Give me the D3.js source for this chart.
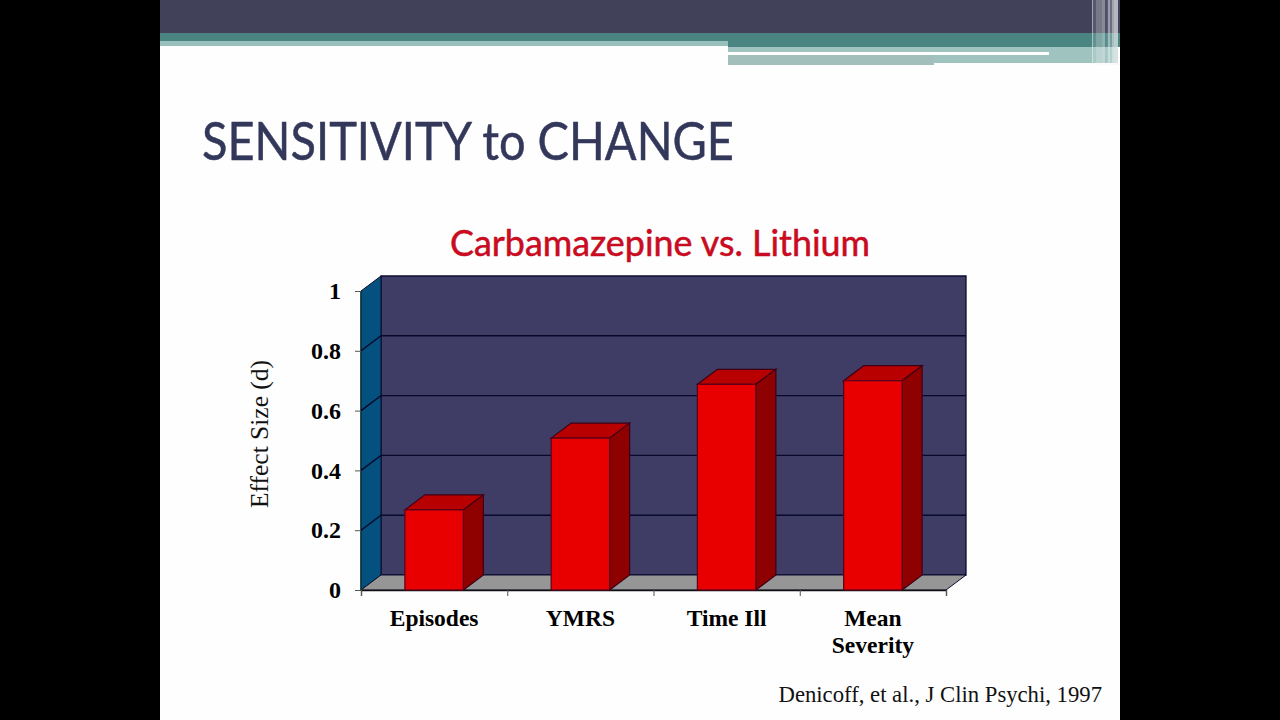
<!DOCTYPE html>
<html>
<head>
<meta charset="utf-8">
<script src="https://cdn.jsdelivr.net/npm/d3@7"></script>
<style>
html,body{margin:0;padding:0;background:#000;overflow:hidden}
svg{display:block}
</style>
</head>
<body>
<svg id="slide" width="1280" height="720"></svg>
<script>
const categories = [["Episodes"], ["YMRS"], ["Time Ill"], ["Mean", "Severity"]];
const effectSizes = [0.268, 0.508, 0.688, 0.70];
const yTicks = [0, 0.2, 0.4, 0.6, 0.8, 1];
const slideTitle = "SENSITIVITY to CHANGE";
const chartTitle = "Carbamazepine vs. Lithium";
const yAxisTitle = "Effect Size (d)";
const citation = "Denicoff, et al., J Clin Psychi, 1997";

const svg = d3.select("#slide");
const serif = "'Liberation Serif','Times New Roman',serif";
const sans = "Lato,'Open Sans',sans-serif";

// Slide background and banner
svg.append("rect").attr("x",160).attr("y",0).attr("width",960).attr("height",720).attr("fill","#fefefe");
const banner = svg.append("g");
const bannerBands = [
  [160,0,960,33,"#41425a"],
  [160,33,960,8,"#4b8582"],
  [160,41,568,5,"#98c1bd"],
  [728,41,392,6,"#4b8582"],
  [728,47,390,16,"#9fc4c0"],
  [728,52,321,3,"#ffffff"],
  [728,55,206,10,"#a3bfbc"],
];
bannerBands.forEach(b => banner.append("rect").attr("x",b[0]).attr("y",b[1]).attr("width",b[2]).attr("height",b[3]).attr("fill",b[4]));
// Pale vertical pinstripes at the banner's right end
[[1092,1,0.55],[1093,3,0.12],[1096,6,0.3],[1102,3,0.4],[1105,2,0.08],[1107,1,0.15],[1108,2,0.5],[1110,2,0.25],[1112,2,0.55],[1114,4,0.65]]
  .forEach(s => banner.append("rect").attr("x",s[0]).attr("y",0).attr("width",s[1]).attr("height",65).attr("fill","#f4f4f6").attr("opacity",s[2]));

// Titles
svg.append("text").attr("x",202).attr("y",160).attr("font-family",sans).attr("font-size",52).attr("fill","#33385a")
  .attr("stroke","#33385a").attr("stroke-width",0.5)
  .attr("textLength",532).attr("lengthAdjust","spacingAndGlyphs").text(slideTitle);
svg.append("text").attr("x",450).attr("y",256).attr("font-family",sans).attr("font-size",37).attr("fill","#cf0a20")
  .attr("stroke","#b80a20").attr("stroke-width",0.5)
  .attr("textLength",420).attr("lengthAdjust","spacingAndGlyphs").text(chartTitle);

// Plot scales: front plane of the 3D box
const depth = {x:20, y:-15};
const x = d3.scaleBand().domain(d3.range(categories.length)).range([361,946]);
const y = d3.scaleLinear().domain([0,1]).range([590,291]);
const barWidth = x.bandwidth()*0.4;
const ink = "#0c0c30";
const poly = pts => pts.map(p => p.join(",")).join(" ");

const plot = svg.append("g");
const [x0,x1] = x.range();
const [y0,y1] = y.range();

// Back wall, left wall, floor
plot.append("polygon").attr("points",poly([[x0+depth.x,y1+depth.y],[x1+depth.x,y1+depth.y],[x1+depth.x,y0+depth.y],[x0+depth.x,y0+depth.y]]))
  .attr("fill","#3f3c66").attr("stroke",ink).attr("stroke-width",1.3);
plot.append("polygon").attr("points",poly([[x0,y1],[x0+depth.x,y1+depth.y],[x0+depth.x,y0+depth.y],[x0,y0]]))
  .attr("fill","#04517f").attr("stroke",ink).attr("stroke-width",1);
plot.append("polygon").attr("points",poly([[x0,y0],[x0+depth.x,y0+depth.y],[x1+depth.x,y0+depth.y],[x1,y0]]))
  .attr("fill","#969696").attr("stroke",ink).attr("stroke-width",1);
plot.append("line").attr("x1",x0).attr("x2",x0).attr("y1",y1).attr("y2",y0).attr("stroke","#0c3a3c").attr("stroke-width",1.5);

// Gridlines wrap from the left wall onto the back wall
yTicks.slice(1,-1).forEach(t => {
  plot.append("polyline").attr("fill","none").attr("stroke","#08082a").attr("stroke-width",1.4)
    .attr("points",poly([[x0,y(t)],[x0+depth.x,y(t)+depth.y],[x1+depth.x,y(t)+depth.y]]));
});

// Axes
const yAxis = d3.axisLeft(y).tickValues(yTicks).tickSize(6).tickPadding(14).tickFormat(d3.format("~g"));
const yG = plot.append("g").attr("transform",`translate(${x0},0)`).call(yAxis);
yG.select(".domain").remove();
yG.selectAll("line").attr("stroke","#555").attr("stroke-width",1);
yG.selectAll("text").attr("font-family",serif).attr("font-weight","bold").attr("font-size",24).attr("fill","#000");

const xAxis = d3.axisBottom(d3.scaleLinear().domain([0,categories.length]).range([x0,x1]))
  .ticks(categories.length).tickSize(6).tickFormat("");
const xG = plot.append("g").attr("transform",`translate(0,${y0})`).call(xAxis);
xG.select(".domain").attr("stroke","#111").attr("stroke-width",1.3);
xG.selectAll("line").attr("stroke","#555").attr("stroke-width",1);

// Bars
const bars = plot.selectAll("g.bar").data(effectSizes).join("g").attr("class","bar");
bars.each(function(v,i){
  const g = d3.select(this);
  const l = x(i)+(x.bandwidth()-barWidth)/2, r = l+barWidth, t = y(v);
  g.append("polygon").attr("points",poly([[l,t],[l+depth.x,t+depth.y],[r+depth.x,t+depth.y],[r,t]]))
    .attr("fill","#b90000").attr("stroke","#3c0016").attr("stroke-width",1.2);
  g.append("polygon").attr("points",poly([[r,t],[r+depth.x,t+depth.y],[r+depth.x,y0+depth.y],[r,y0]]))
    .attr("fill","#8f0000").attr("stroke","#3c0016").attr("stroke-width",1.2);
  g.append("rect").attr("x",l).attr("y",t).attr("width",barWidth).attr("height",y0-t)
    .attr("fill","#e80000").attr("stroke","#5c001c").attr("stroke-width",1.2);
});

// Category labels
categories.forEach((lines,i) => {
  lines.forEach((s,k) => {
    plot.append("text").attr("x",x(i)+x.bandwidth()/2).attr("y",626+k*27).attr("text-anchor","middle")
      .attr("font-family",serif).attr("font-weight","bold").attr("font-size",23.5).attr("fill","#000").text(s);
  });
});

// Y axis title and citation
svg.append("text").attr("transform","translate(268,434) rotate(-90)").attr("text-anchor","middle")
  .attr("font-family",serif).attr("font-size",25.5).attr("fill","#111").text(yAxisTitle);
svg.append("text").attr("x",1102).attr("y",702).attr("text-anchor","end")
  .attr("font-family",serif).attr("font-size",22.7).attr("fill","#111").text(citation);
</script>
</body>
</html>
